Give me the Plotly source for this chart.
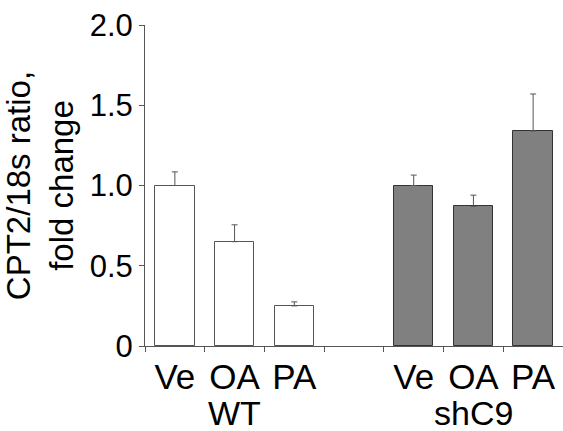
import plotly.graph_objects as go

categories = ["Ve", "OA", "PA", "", "Ve", "OA", "PA"]
wt_values = [1.00, 0.65, 0.25]
wt_errors = [0.085, 0.105, 0.025]
sh_values = [1.00, 0.87, 1.34]
sh_errors = [0.065, 0.07, 0.23]
group_labels = ["WT", "shC9"]
y_tickvals = [0, 0.5, 1.0, 1.5, 2.0]
y_ticktext = ["0", "0.5", "1.0", "1.5", "2.0"]

FONT = "Liberation Sans, Arial, sans-serif"

wt_x = [0, 1, 2]
sh_x = [4, 5, 6]

fig = go.Figure()
fig.add_trace(go.Bar(
    x=wt_x, y=wt_values, width=0.66,
    marker=dict(color="white", line=dict(color="#555555", width=1)),
    error_y=dict(type="data", symmetric=False, array=wt_errors,
                 arrayminus=[0]*3, color="#555555", thickness=1, width=3),
    showlegend=False,
))
fig.add_trace(go.Bar(
    x=sh_x, y=sh_values, width=0.66,
    marker=dict(color="#808080", line=dict(color="#333333", width=1)),
    error_y=dict(type="data", symmetric=False, array=sh_errors,
                 arrayminus=[0]*3, color="#555555", thickness=1, width=3),
    showlegend=False,
))

fig.update_layout(
    width=563, height=431,
    margin=dict(l=145, r=0, t=25, b=85),
    paper_bgcolor="white", plot_bgcolor="white",
    font=dict(family=FONT, size=32, color="black"),
    bargap=0,
)
fig.update_xaxes(
    range=[-0.5, 6.5],
    tickvals=[0, 1, 2, 4, 5, 6],
    ticktext=[categories[i] for i in [0, 1, 2, 4, 5, 6]],
    ticks="", showgrid=False, zeroline=False,
    showline=True, linecolor="#555555", linewidth=1,
    minor=dict(tick0=-0.5, dtick=1, ticks="outside", ticklen=5,
               tickcolor="#555555", showgrid=False),
    tickfont=dict(size=35),
)
fig.update_yaxes(
    range=[0, 2.0],
    tickvals=y_tickvals, ticktext=y_ticktext,
    ticks="outside", ticklen=5, tickcolor="#555555",
    showgrid=False, zeroline=False,
    showline=True, linecolor="#555555", linewidth=1,
    tickfont=dict(size=31),
    title=dict(text="CPT2/18s ratio,<br>fold change", standoff=8,
               font=dict(size=33)),
)
for gx, lab in zip([1, 5], group_labels):
    fig.add_annotation(x=gx, xref="x", y=0, yref="paper", yshift=-67,
                       yanchor="middle", text=lab, showarrow=False,
                       font=dict(size=34, family=FONT, color="black"))

fig.write_html("out.html")
